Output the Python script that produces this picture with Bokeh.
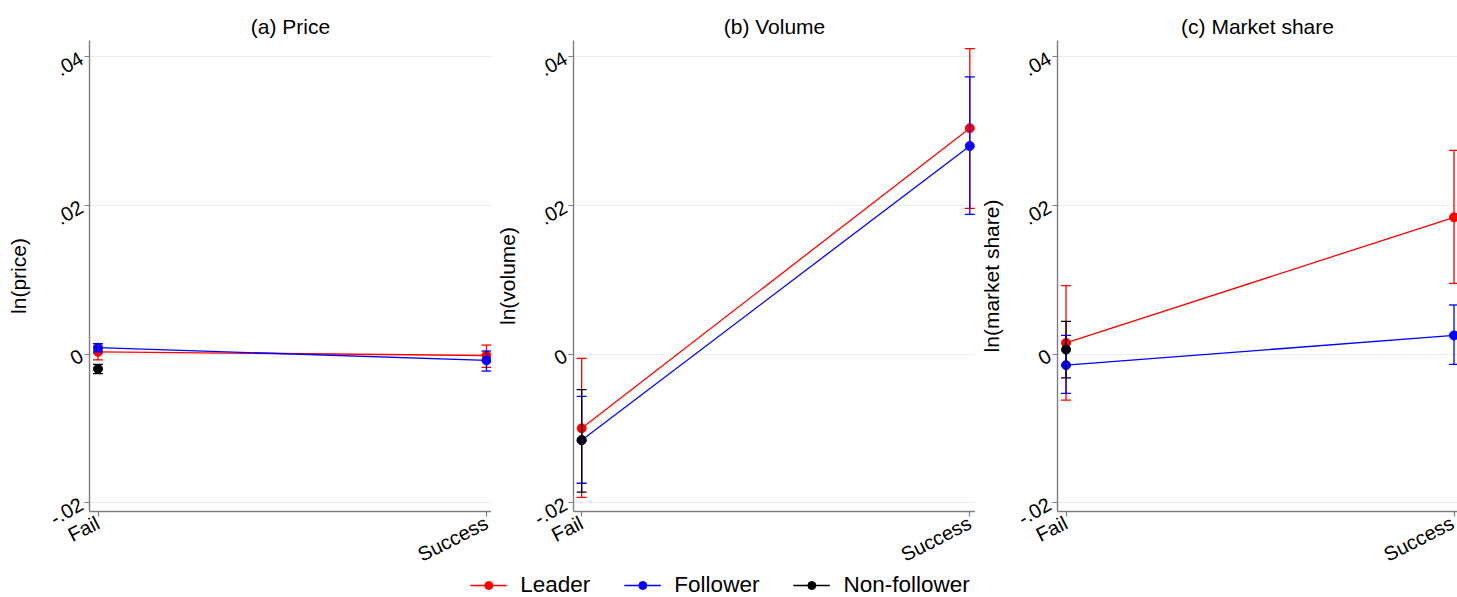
import math
from bokeh.plotting import figure
from bokeh.models import (ColumnDataSource, Whisker, TeeHead, Range1d, FixedTicker,
                          Legend, LegendItem)
from bokeh.layouts import column, row
from bokeh.embed import file_html
from bokeh.resources import INLINE

FONT = "Liberation Sans"

# ---------------- data ----------------
x_labels = ["Fail", "Success"]
x_pos = [0, 1]
y_ticks = [-0.02, 0.0, 0.02, 0.04]
y_tick_labels = ["-.02", "0", ".02", ".04"]
titles = ["(a) Price", "(b) Volume", "(c) Market share"]
y_titles = ["ln(price)", "ln(volume)", "ln(market share)"]
series_names = ["Leader", "Follower", "Non-follower"]
series_colors = ["#ff0000", "#0000ff", "#000000"]

# (a) Price
price_leader = [0.0003, -0.0002]
price_leader_lo = [-0.0008, -0.0018]
price_leader_hi = [0.0014, 0.0012]
price_follower = [0.00085, -0.00085]
price_follower_lo = [0.0003, -0.0023]
price_follower_hi = [0.0014, 0.0004]
price_nonfollower = [-0.0020]
price_nonfollower_lo = [-0.00265]
price_nonfollower_hi = [-0.0014]

# (b) Volume
volume_leader = [-0.0100, 0.0304]
volume_leader_lo = [-0.0193, 0.0196]
volume_leader_hi = [-0.0006, 0.0411]
volume_follower = [-0.0116, 0.0280]
volume_follower_lo = [-0.0174, 0.0188]
volume_follower_hi = [-0.0057, 0.0373]
volume_nonfollower = [-0.0116]
volume_nonfollower_lo = [-0.0186]
volume_nonfollower_hi = [-0.0048]

# (c) Market share
share_leader = [0.0015, 0.0184]
share_leader_lo = [-0.0062, 0.0095]
share_leader_hi = [0.0092, 0.0274]
share_follower = [-0.0015, 0.0025]
share_follower_lo = [-0.0053, -0.0014]
share_follower_hi = [0.0025, 0.0066]
share_nonfollower = [0.0006]
share_nonfollower_lo = [-0.0032]
share_nonfollower_hi = [0.0044]

panels_data = [
    [(price_leader, price_leader_lo, price_leader_hi),
     (price_follower, price_follower_lo, price_follower_hi),
     (price_nonfollower, price_nonfollower_lo, price_nonfollower_hi)],
    [(volume_leader, volume_leader_lo, volume_leader_hi),
     (volume_follower, volume_follower_lo, volume_follower_hi),
     (volume_nonfollower, volume_nonfollower_lo, volume_nonfollower_hi)],
    [(share_leader, share_leader_lo, share_leader_hi),
     (share_follower, share_follower_lo, share_follower_hi),
     (share_nonfollower, share_nonfollower_lo, share_nonfollower_hi)],
]

# ---------------- layout ----------------
H = 578
AXIS_GREY = "#7f7f7f"
GRID = "#e8eeef"
panel_geom = [  # width, min_border_left, x_start, x_end, axis label standoff
    (491, 89, -0.0219, 1.0129, 12),
    (484, 82, -0.0210, 1.0147, 7),
    (482, 82, -0.0220, 1.0090, 7),
]


def make_panel(idx):
    width, bl, x_start, x_end, lab_standoff = panel_geom[idx]
    p = figure(width=width, height=H, output_backend="svg", toolbar_location=None,
               x_range=Range1d(x_start, x_end), y_range=Range1d(-0.0212, 0.0422),
               min_border_left=bl, min_border_right=0, min_border_top=40,
               min_border_bottom=40, title=titles[idx])
    p.outline_line_color = None
    p.background_fill_color = "white"
    p.border_fill_color = "white"
    p.title.align = "center"
    p.title.text_font = FONT
    p.title.text_font_size = "21px"
    p.title.text_font_style = "normal"
    p.title.text_color = "black"
    p.title.standoff = 5

    p.xgrid.visible = False
    p.ygrid.grid_line_color = GRID
    p.ygrid.grid_line_width = 1

    p.yaxis.ticker = FixedTicker(ticks=y_ticks)
    p.yaxis.major_label_overrides = dict(zip(y_ticks, y_tick_labels))
    p.xaxis.ticker = FixedTicker(ticks=x_pos)
    p.xaxis.major_label_overrides = dict(zip(x_pos, x_labels))
    p.ygrid.ticker = FixedTicker(ticks=y_ticks)

    for ax in (p.xaxis, p.yaxis):
        ax.axis_line_color = AXIS_GREY
        ax.axis_line_width = 1.4
        ax.major_tick_line_color = AXIS_GREY
        ax.major_tick_line_width = 1.2
        ax.major_tick_out = 5
        ax.major_tick_in = 0
        ax.minor_tick_line_color = None
        ax.major_label_text_font = FONT
        ax.major_label_text_font_size = "20px"
        ax.major_label_text_color = "black"
    p.xaxis.major_label_orientation = math.radians(27)
    p.yaxis.major_label_orientation = math.radians(30)
    p.yaxis.major_label_standoff = 3
    p.yaxis.axis_label = y_titles[idx]
    p.yaxis.axis_label_text_font = FONT
    p.yaxis.axis_label_text_font_size = "21px"
    p.yaxis.axis_label_text_font_style = "normal"
    p.yaxis.axis_label_text_color = "black"
    p.yaxis.axis_label_standoff = lab_standoff

    for (ys, lo, hi), color in zip(panels_data[idx], series_colors):
        xs = x_pos[:len(ys)]
        src = ColumnDataSource(dict(x=xs, y=ys, lo=lo, hi=hi))
        if len(ys) > 1:
            p.line("x", "y", source=src, line_color=color, line_width=1.3)
        w = Whisker(source=src, base="x", upper="hi", lower="lo",
                    line_color=color, line_width=1.3, level="glyph",
                    upper_head=TeeHead(size=10, line_color=color, line_width=1.3),
                    lower_head=TeeHead(size=10, line_color=color, line_width=1.3))
        p.add_layout(w)
        p.scatter("x", "y", source=src, size=9, color=color)
    return p


panels = [make_panel(i) for i in range(3)]

# ---------------- legend strip ----------------
nan = float("nan")
leg = figure(width=1457, height=40, output_backend="svg", toolbar_location=None,
             x_range=Range1d(0, 1), y_range=Range1d(0, 1),
             min_border_left=0, min_border_right=18, min_border_top=15, min_border_bottom=0,
             x_axis_location=None, y_axis_location=None)
leg.margin = (-21, 0, 0, 0)
leg.outline_line_color = None
leg.background_fill_alpha = 0
leg.border_fill_alpha = 0
leg.grid.visible = False
items = []
for name, color in zip(series_names, series_colors):
    src = ColumnDataSource(dict(x=[nan], y=[nan]))
    r1 = leg.line("x", "y", source=src, line_color=color, line_width=1.3)
    r2 = leg.scatter("x", "y", source=src, size=9, color=color)
    items.append(LegendItem(label=name, renderers=[r1, r2]))
legend = Legend(items=items, orientation="horizontal", location="center",
                border_line_color=None, background_fill_alpha=0,
                label_text_font=FONT, label_text_font_size="22.5px",
                label_text_color="black",
                glyph_width=37, glyph_height=20, label_standoff=14,
                spacing=33, padding=0, margin=0)
leg.add_layout(legend, "center")

layout = column(row(*panels), leg)
open("out.html", "w").write(file_html(layout, INLINE))
